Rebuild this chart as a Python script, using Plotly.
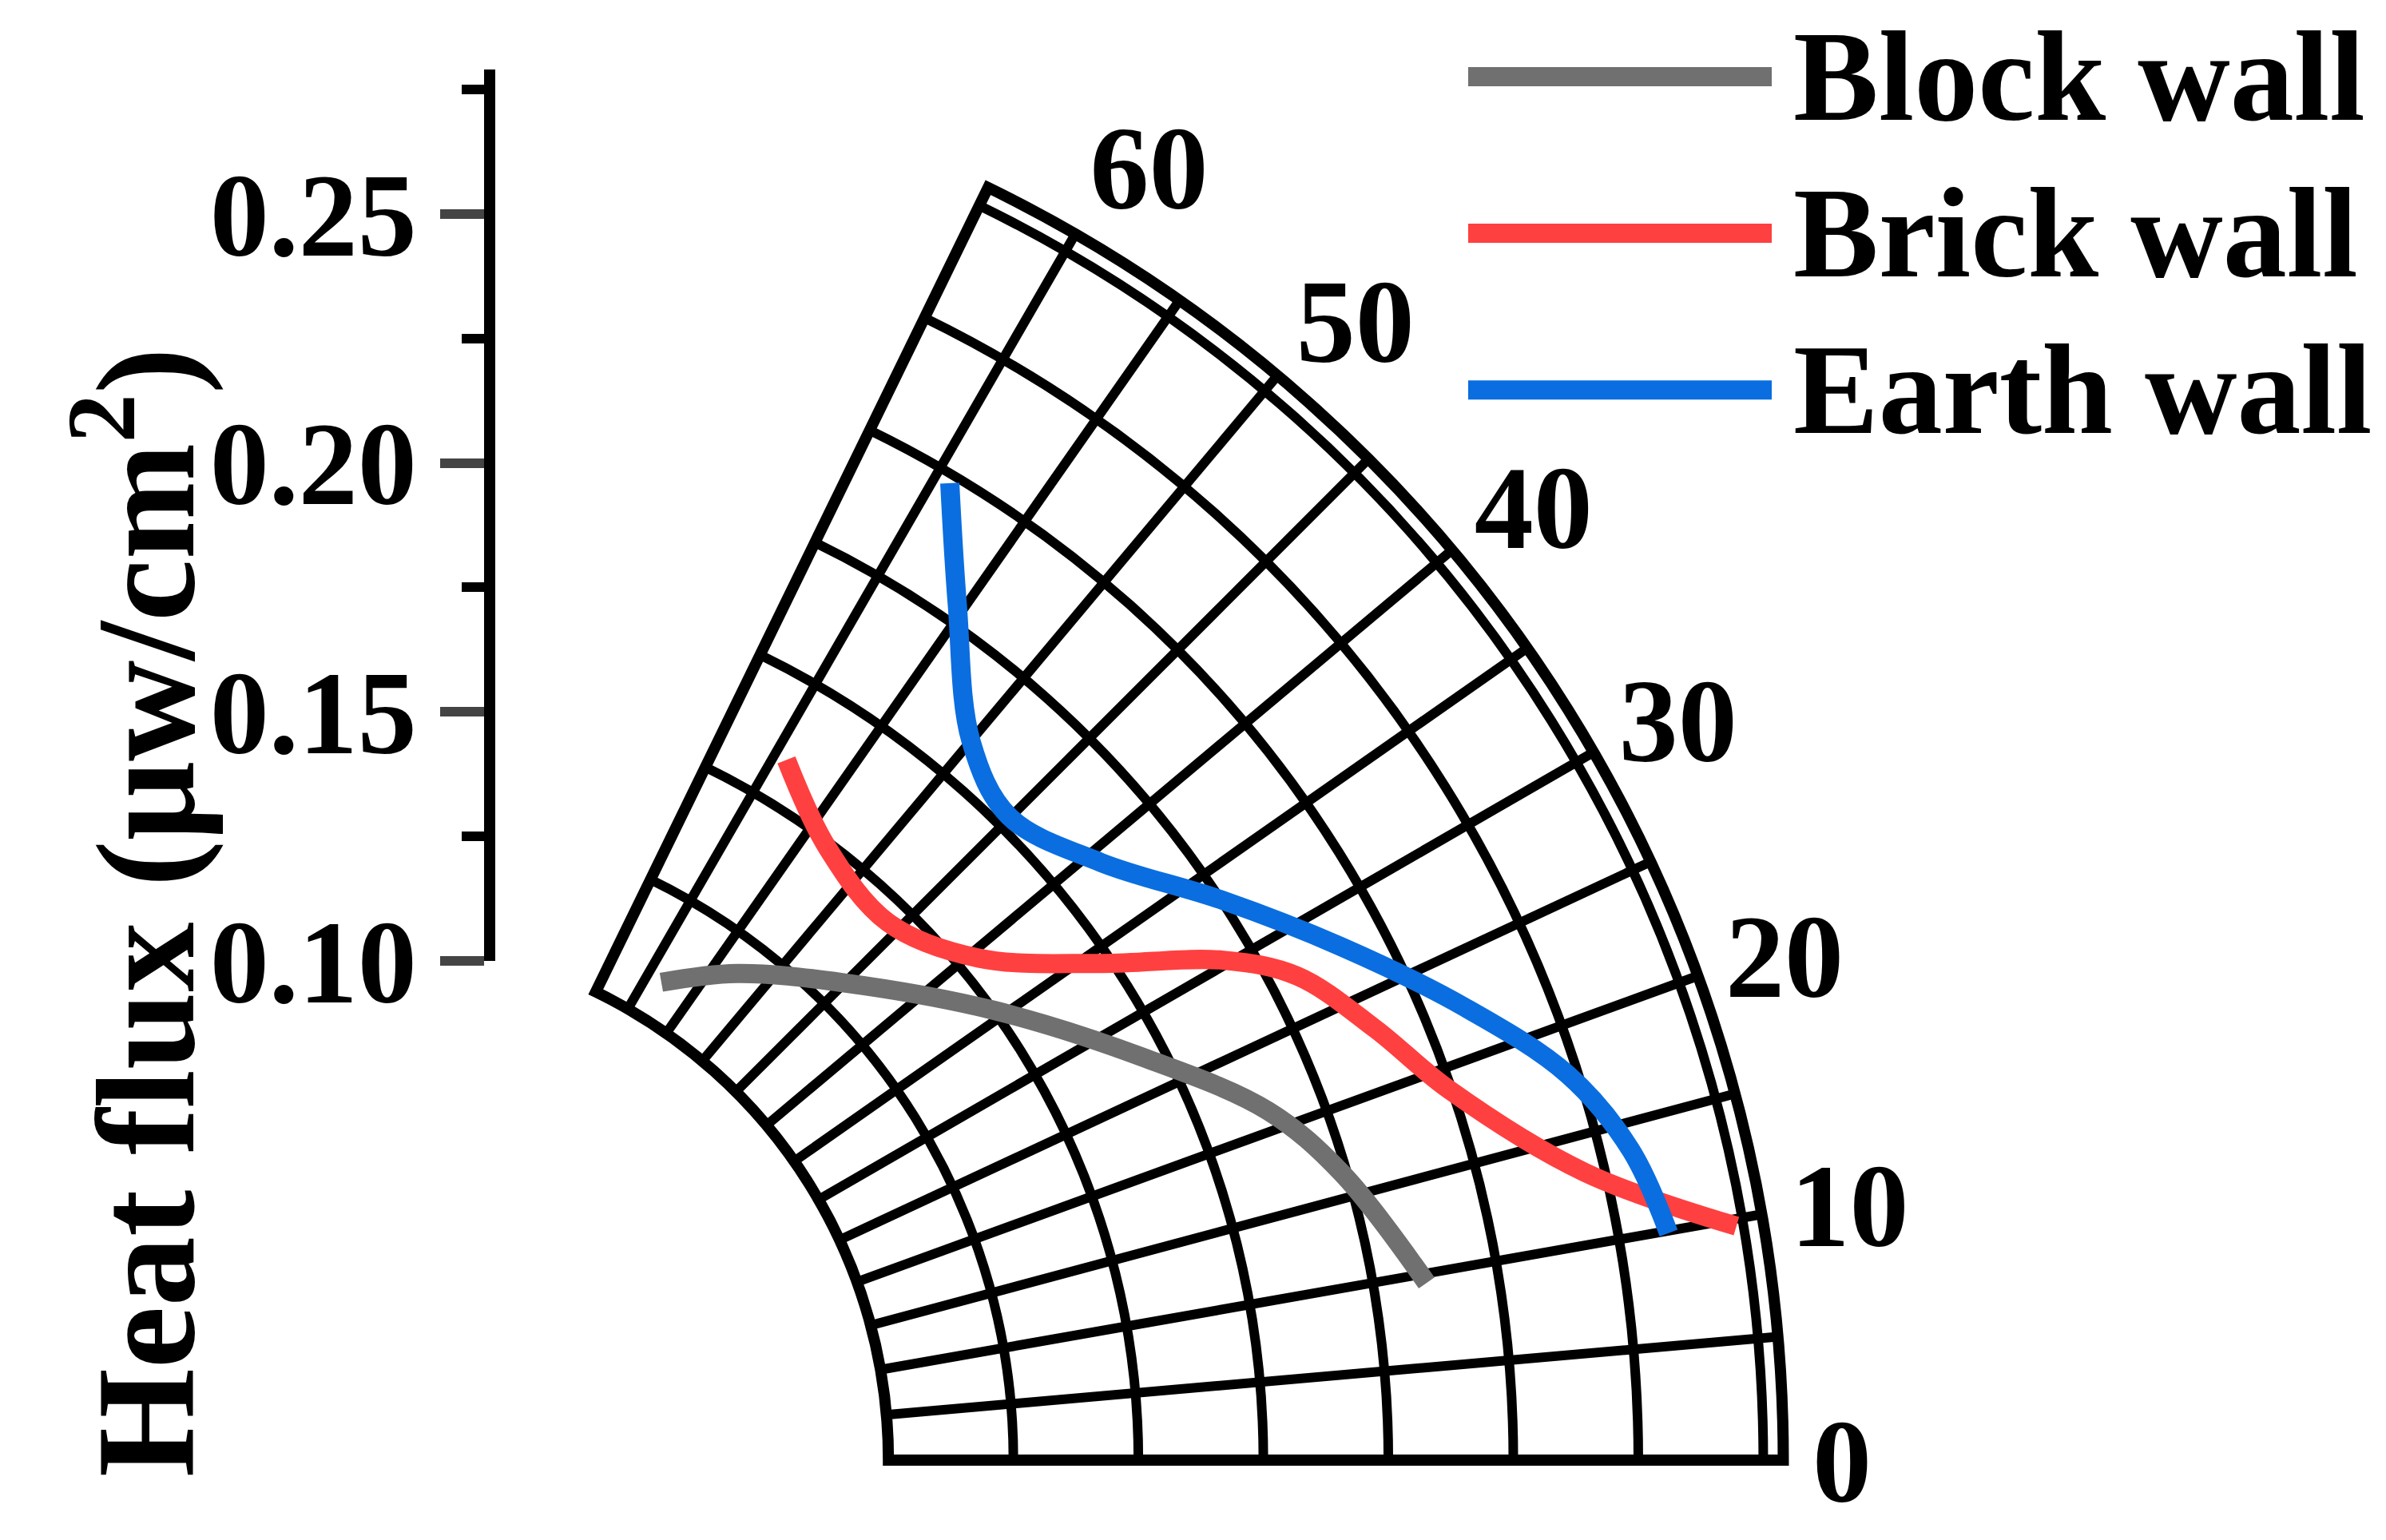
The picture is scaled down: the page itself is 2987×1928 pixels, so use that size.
import plotly.graph_objects as go

block_theta = [58.4, 52.8, 45.1, 35.7, 27.3, 21.2, 16.4, 9.5]
block_r = [0.108, 0.118, 0.1306, 0.150, 0.171, 0.189, 0.199, 0.2106]
brick_theta = [59.1, 53.1, 45.9, 39.4, 34.1, 30.3, 27.5, 23.2, 18.9, 13.3, 9.7]
brick_r = [0.159, 0.149, 0.1455, 0.154, 0.173, 0.194, 0.2055, 0.215, 0.2245, 0.246, 0.2736]
earth_theta = [59.2, 55.4, 50.0, 45.1, 39.2, 33.3, 27.8, 22.5, 17.8, 13.8, 9.9]
earth_r = [0.2233, 0.2036, 0.1836, 0.1776, 0.185, 0.200, 0.216, 0.233, 0.248, 0.256, 0.260]
names = ["Block wall", "Brick wall", "Earth wall"]
colors = ["#707070", "#FF4040", "#0A6EE0"]
ang_ticks = [0, 5, 10, 15, 20, 25, 30, 35, 40, 45, 50, 55, 60, 64]
ang_text = ["0", "", "10", "", "20", "", "30", "", "40", "", "50", "", "60", ""]
r_ticks = [0.10, 0.15, 0.20, 0.25]

FONT = "Liberation Serif"
fig = go.Figure()
for th, r, c in zip([block_theta, brick_theta, earth_theta], [block_r, brick_r, earth_r], colors):
    fig.add_trace(go.Scatterpolar(theta=th, r=r, mode="lines", line=dict(color=c, width=24, shape="spline"),
                                  showlegend=False))
fig.add_trace(go.Scatter(x=[0, 0], y=[0.10, 0.279], mode="lines", line=dict(width=0), showlegend=False,
                         xaxis="x", yaxis="y", hoverinfo="skip"))

fig.update_layout(
    width=2987, height=1928, margin=dict(l=0, r=0, t=0, b=0),
    paper_bgcolor="white", plot_bgcolor="rgba(0,0,0,0)",
    font=dict(family=FONT, size=148, color="black"),
    polar=dict(
        domain=dict(x=[0.098, 0.798], y=[0.013, 0.877]),
        sector=[0, 64], hole=0.368, bgcolor="white",
        radialaxis=dict(range=[0.10, 0.279], dtick=0.025, showticklabels=False, ticks="",
                        showline=False, gridcolor="black", gridwidth=12, angle=0),
        angularaxis=dict(tickvals=ang_ticks, ticktext=ang_text, rotation=0, direction="counterclockwise",
                         showline=True, linecolor="black", linewidth=14, gridcolor="black", gridwidth=12,
                         ticks="", tickfont=dict(family=FONT, size=148, weight="bold")),
    ),
    xaxis=dict(domain=[0.205, 0.21], visible=False, range=[0, 1]),
    yaxis=dict(domain=[0.352, 0.957], range=[0.10, 0.279], anchor="x", side="left",
               tickvals=r_ticks, ticktext=["0.10", "0.15", "0.20", "0.25"], ticks="outside", ticklen=55,
               tickwidth=12, showline=True, linewidth=14, linecolor="black", showgrid=False, zeroline=False,
               minor=dict(dtick=0.025, ticks="outside", ticklen=28, tickwidth=12, tickcolor="black"),
               tickfont=dict(family=FONT, size=148, weight="bold")),
)
fig.add_annotation(text="Heat flux (μw/cm<sup>2</sup>)", xref="paper", yref="paper", x=0.054, y=0.385,
                   xanchor="center", yanchor="middle",
                   textangle=-90, showarrow=False, font=dict(family=FONT, size=175, weight="bold"))
for i, (n, c) in enumerate(zip(names, colors)):
    yc = 1 - (92 + 205 * i) / 1928
    fig.add_shape(type="line", xref="paper", yref="paper", x0=1830 / 2987, x1=2210 / 2987, y0=yc, y1=yc,
                  line=dict(color=c, width=24))
    fig.add_annotation(text=n, xref="paper", yref="paper", x=2235 / 2987, y=yc, xanchor="left",
                       yanchor="middle", showarrow=False, font=dict(family=FONT, size=160, weight="bold"))
fig.write_html("out.html")
